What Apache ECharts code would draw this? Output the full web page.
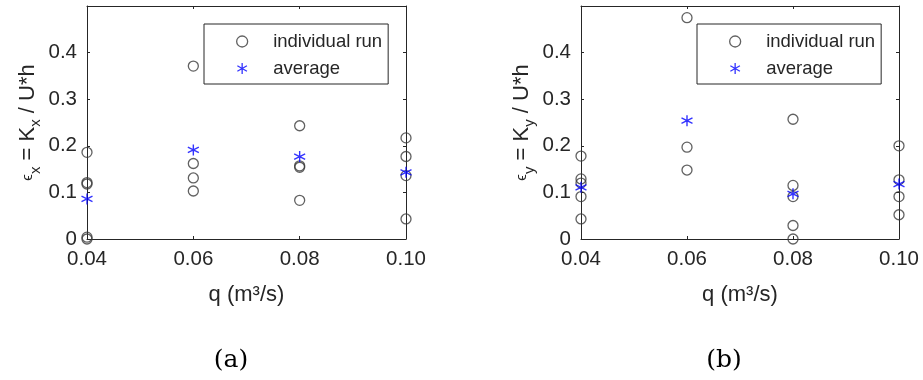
<!DOCTYPE html>
<html>
<head>
<meta charset="utf-8">
<script src="https://cdn.jsdelivr.net/npm/echarts@6/dist/echarts.min.js"></script>
<style>
  html, body { margin: 0; padding: 0; background: #fff; }
  #chart { width: 923px; height: 380px; }
</style>
</head>
<body>
<div id="chart"></div>
<script>
// (a) longitudinal dispersion, (b) transverse dispersion
const runsA = [
  [0.04, 0.186], [0.04, 0.121], [0.04, 0.118], [0.04, 0.004], [0.04, 0.0],
  [0.06, 0.371], [0.06, 0.162], [0.06, 0.131], [0.06, 0.103],
  [0.08, 0.243], [0.08, 0.157], [0.08, 0.154], [0.08, 0.083],
  [0.10, 0.217], [0.10, 0.177], [0.10, 0.136], [0.10, 0.043]
];
const avgA = [[0.04, 0.086], [0.06, 0.191], [0.08, 0.177], [0.10, 0.143]];

const runsB = [
  [0.04, 0.178], [0.04, 0.129], [0.04, 0.120], [0.04, 0.091], [0.04, 0.043],
  [0.06, 0.475], [0.06, 0.197], [0.06, 0.148],
  [0.08, 0.257], [0.08, 0.115], [0.08, 0.091], [0.08, 0.029], [0.08, 0.0],
  [0.10, 0.200], [0.10, 0.127], [0.10, 0.091], [0.10, 0.052]
];
const avgB = [[0.04, 0.111], [0.06, 0.254], [0.08, 0.097], [0.10, 0.118]];

const xTicks = [0.04, 0.06, 0.08, 0.10];
const yTicks = [0, 0.1, 0.2, 0.3, 0.4];

const ink = "#262626";
const font = "Liberation Sans";
const star = "path://M0,-1L0,1M-0.87,-0.5L0.87,0.5M-0.87,0.5L0.87,-0.5";

const grids = [
  { left: 87, top: 6, width: 319, height: 233 },
  { left: 581, top: 6, width: 318, height: 233 }
];

function xAxes(g) {
  const base = {
    type: "value", gridIndex: g, min: 0.04, max: 0.1, interval: 0.02,
    axisLine: { onZero: false, lineStyle: { color: ink, width: 1 } },
    axisTick: { inside: true, length: 3, lineStyle: { color: ink } },
    splitLine: { show: false }
  };
  return [
    Object.assign({}, base, {
      position: "bottom",
      name: "q (m³/s)", nameLocation: "middle", nameGap: 45,
      nameTextStyle: { fontFamily: font, fontSize: 22, color: ink },
      axisLabel: {
        fontFamily: font, fontSize: 20.5, color: ink, margin: 10,
        formatter: v => (xTicks.some(t => Math.abs(t - v) < 1e-9) ? v.toFixed(2) : "")
      }
    }),
    Object.assign({}, base, { position: "top", axisLabel: { show: false } })
  ];
}

function yAxes(g, sub) {
  const base = {
    type: "value", gridIndex: g, min: 0, max: 0.5, interval: 0.1,
    axisLine: { onZero: false, lineStyle: { color: ink, width: 1 } },
    axisTick: { inside: true, length: 3, lineStyle: { color: ink } },
    splitLine: { show: false }
  };
  return [
    Object.assign({}, base, {
      position: "left",
      name: "{e|ϵ}{s|" + sub + "}{m| = K}{s|" + sub + "}{m| / U*h}",
      nameLocation: "middle", nameGap: 46,
      nameTextStyle: {
        fontFamily: font, color: ink,
        rich: {
          e: { fontFamily: font, fontSize: 15, color: ink, lineHeight: 26 },
          m: { fontFamily: font, fontSize: 22, color: ink, lineHeight: 26 },
          s: { fontFamily: font, fontSize: 15, color: ink, verticalAlign: "bottom", lineHeight: 26, padding: [0, 0, -2, 0] }
        }
      },
      axisLabel: {
        fontFamily: font, fontSize: 20.5, color: ink, margin: 10,
        formatter: v => (yTicks.some(t => Math.abs(t - v) < 1e-9) ? (v === 0 ? "0" : v.toFixed(1)) : "")
      }
    }),
    Object.assign({}, base, { position: "right", axisLabel: { show: false } })
  ];
}

function runSeries(g, data) {
  return {
    name: "individual run", type: "scatter", xAxisIndex: g * 2, yAxisIndex: g * 2,
    data: data, symbol: "circle", symbolSize: 10,
    itemStyle: { color: "rgba(0,0,0,0)", borderColor: "#3a3a3a", borderWidth: 1.3 },
    emphasis: { disabled: true }
  };
}

function avgSeries(g, data) {
  return {
    name: "average", type: "scatter", xAxisIndex: g * 2, yAxisIndex: g * 2,
    data: data, symbol: star, symbolSize: 11, z: 3,
    itemStyle: { color: "rgba(0,0,0,0)", borderColor: "#0000ff", borderWidth: 1.4 },
    emphasis: { disabled: true }
  };
}

function legend(left) {
  return {
    left: left, top: 24, orient: "vertical",
    itemWidth: 52, itemHeight: 11, itemGap: 8,
    padding: [8, 6, 6, 32],
    borderColor: ink, borderWidth: 1, backgroundColor: "#fff",
    itemStyle: { borderWidth: 1.3 },
    textStyle: { fontFamily: font, fontSize: 18.5, color: ink, lineHeight: 18 },
    data: ["individual run", "average"]
  };
}

const chart = echarts.init(document.getElementById("chart"), null, { renderer: "canvas" });
chart.setOption({
  animation: false,
  backgroundColor: "#fff",
  title: [
    { text: "(a)", left: 226, top: 343, textAlign: "center",
      textStyle: { fontFamily: "DejaVu Serif", fontWeight: "normal", fontSize: 25, color: "#000" } },
    { text: "(b)", left: 719, top: 343, textAlign: "center",
      textStyle: { fontFamily: "DejaVu Serif", fontWeight: "normal", fontSize: 25, color: "#000" } }
  ],
  grid: grids,
  xAxis: xAxes(0).concat(xAxes(1)),
  yAxis: yAxes(0, "x").concat(yAxes(1, "y")),
  legend: [
    Object.assign(legend(204), { id: "la" }),
    Object.assign(legend(697), { id: "lb" })
  ],
  series: [
    runSeries(0, runsA), avgSeries(0, avgA),
    runSeries(1, runsB), avgSeries(1, avgB)
  ]
});
</script>
</body>
</html>
